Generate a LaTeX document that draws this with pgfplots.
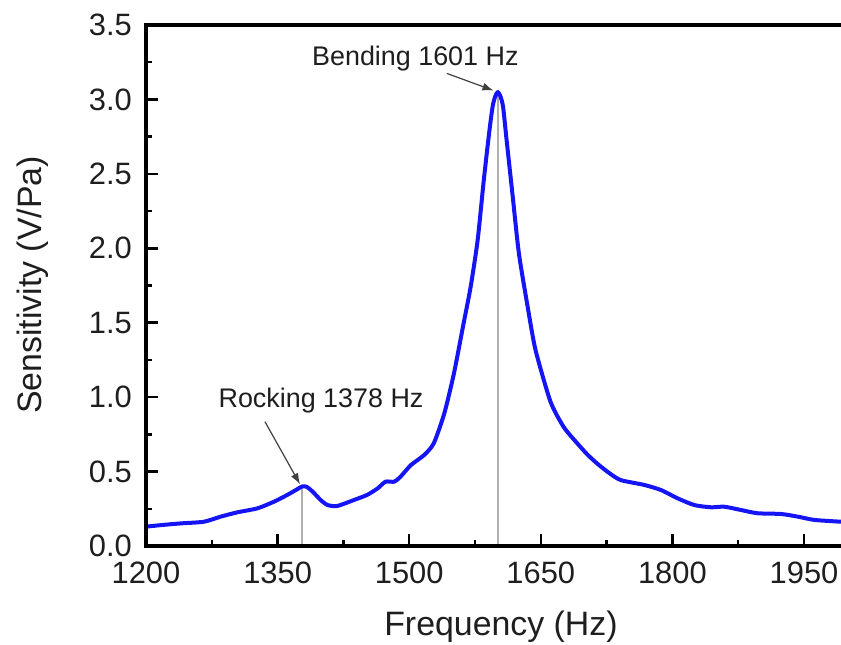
\documentclass[border=0pt]{standalone}
\usepackage{pgfplots}
\pgfplotsset{compat=1.18}
\usepackage{fontspec}
\setmainfont{Liberation Sans}
\usetikzlibrary{arrows.meta}

\definecolor{curveblue}{RGB}{20,20,245}
\definecolor{guide}{RGB}{175,175,175}
\definecolor{txt}{RGB}{30,30,30}

\begin{document}
\begin{tikzpicture}
\begin{axis}[
  name=ax,
  at={(146bp,99bp)}, anchor=south west,
  scale only axis,
  width=701.9bp, height=521bp,
  xmin=1200, xmax=2000,
  ymin=0, ymax=3.5,
  axis line style={line width=3bp, draw=black},
  xtick={1200,1350,...,1950},
  ytick={0,0.5,...,3.5},
  minor x tick num=1, minor y tick num=1,
  xtick pos=bottom, ytick pos=left,
  tick align=inside,
  major tick length=12bp, minor tick length=6bp,
  every tick/.style={line width=2.5bp, black},
  /pgf/number format/assume math mode=true,
  x tick label style={/pgf/number format/1000 sep={}, font=\fontsize{31}{36}\selectfont,
    text=txt, inner sep=0pt, anchor=north, yshift=-15.5bp},
  y tick label style={/pgf/number format/.cd, fixed, fixed zerofill, precision=1,
    /tikz/.cd, font=\fontsize{31}{36}\selectfont, text=txt, inner sep=0pt,
    anchor=east, xshift=-14bp},
  clip mode=individual,
]
% guide lines at the two resonances
\addplot[guide, line width=2bp] coordinates {(1378,0) (1378,0.40)};
\addplot[guide, line width=2bp] coordinates {(1601,0) (1601,3.05)};

% measured sensitivity
\addplot[curveblue, line width=4bp, smooth, tension=0.4, line join=round] coordinates {
(1200,0.130) (1220,0.142) (1240,0.152) (1266,0.163) (1285,0.197)
(1304,0.226) (1327,0.253) (1346,0.298) (1361,0.343) (1372,0.380)
(1378,0.400) (1383,0.398) (1390,0.365) (1399,0.309) (1407,0.275)
(1418,0.269) (1437,0.309) (1452,0.343) (1464,0.387) (1473,0.432)
(1483,0.432) (1490,0.465) (1502,0.544) (1517,0.611) (1528,0.690)
(1540,0.891) (1551,1.160) (1562,1.496) (1570,1.740) (1578,2.055)
(1585,2.458) (1591,2.770) (1595,2.950) (1598,3.020) (1601,3.050)
(1604,3.020) (1607,2.950) (1611,2.727) (1618,2.346) (1625,1.966)
(1635,1.607) (1644,1.316) (1661,0.970) (1676,0.800) (1690,0.700)
(1703,0.615) (1715,0.550) (1728,0.490) (1741,0.443) (1768,0.410)
(1787,0.376) (1806,0.320) (1825,0.275) (1844,0.260) (1859,0.264)
(1878,0.242) (1897,0.220) (1924,0.215) (1943,0.197) (1962,0.175)
(1992,0.163) (2000,0.160)
};

% mode annotations
\node[text=txt, font=\fontsize{27}{32}\selectfont, inner sep=0pt]
  at (axis cs:1399.5,0.98) {Rocking 1378 Hz};
\draw[black!75, line width=1.2bp, -{Latex[length=11bp,width=8bp]}]
  (axis cs:1335.6,0.835) -- (axis cs:1375.5,0.415);
\node[text=txt, font=\fontsize{27}{32}\selectfont, inner sep=0pt]
  at (axis cs:1507,3.275) {Bending 1601 Hz};
\draw[black!75, line width=1.2bp, -{Latex[length=11bp,width=8bp]}]
  (axis cs:1542.8,3.175) -- (axis cs:1596,3.06);

% x axis title
\node[text=txt, font=\fontsize{34}{40}\selectfont, anchor=base, inner sep=0pt]
  at (axis cs:1604.6,-0.598) {Frequency (Hz)};
\end{axis}
% frame drawn again on top, full weight
\draw[line width=3.2bp, black, line cap=rect]
  (ax.north east) -- (ax.north west) -- (ax.south west) -- (ax.south east);
\node[text=txt, font=\fontsize{34}{40}\selectfont, rotate=90, inner sep=0pt]
  at (33bp,360bp) {Sensitivity (V/Pa)};
\pgfresetboundingbox
\path[use as bounding box] (0,0) rectangle (841bp,645bp);
\end{tikzpicture}
\end{document}
